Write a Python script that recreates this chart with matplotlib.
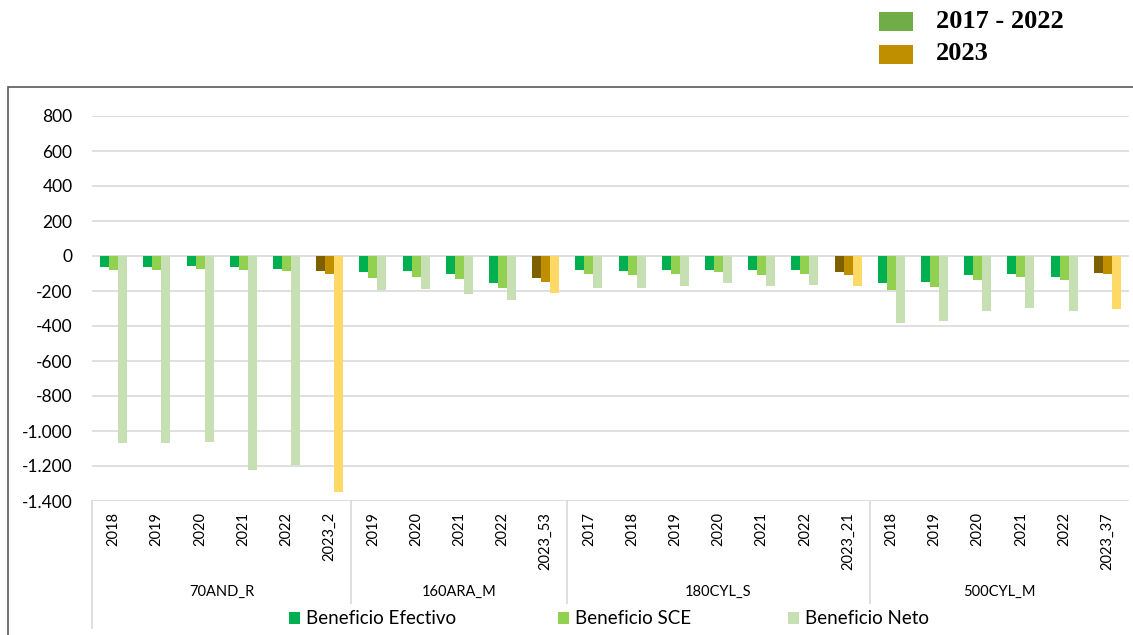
import matplotlib
matplotlib.use("Agg")
import matplotlib.pyplot as plt
import matplotlib.patches as mpatches
import numpy as np

# ---------------- data ----------------
groups = ["70AND_R", "160ARA_M", "180CYL_S", "500CYL_M"]
group_years = [
    ["2018", "2019", "2020", "2021", "2022", "2023_2"],
    ["2019", "2020", "2021", "2022", "2023_53"],
    ["2017", "2018", "2019", "2020", "2021", "2022", "2023_21"],
    ["2018", "2019", "2020", "2021", "2022", "2023_37"],
]
beneficio_efectivo = [-61, -61, -57, -61, -72, -84,
                      -91, -86, -101, -154, -124,
                      -82, -88, -82, -82, -82, -82, -90,
                      -156, -147, -107, -101, -122, -95]
beneficio_sce = [-80, -80, -76, -80, -86, -105,
                 -126, -120, -133, -185, -147,
                 -101, -110, -101, -91, -107, -101, -107,
                 -194, -179, -135, -122, -135, -105]
beneficio_neto = [-1070, -1070, -1063, -1223, -1194, -1350,
                  -194, -189, -217, -253, -210,
                  -185, -185, -170, -156, -170, -164, -170,
                  -385, -370, -312, -297, -316, -301]
series_names = ["Beneficio Efectivo", "Beneficio SCE", "Beneficio Neto"]
top_legend_labels = ["2017 - 2022", "2023"]
y_ticks = list(range(-1400, 801, 200))

# ---------------- styles ----------------
col_hist = ["#00B050", "#92D050", "#C6E0B4"]
col_2023 = ["#7F6000", "#BF8F00", "#FFD966"]
top_leg_colors = ["#70AD47", "#BF8F00"]
FONT = "Lato"

W, H = 1133, 635
fig = plt.figure(figsize=(W / 100, H / 100), dpi=100)
fig.patch.set_facecolor("white")

def fx(px):
    return px / W

def fy(py):
    return 1 - py / H

ax = fig.add_axes([fx(92), fy(501), fx(1129) - fx(92), fy(116) - fy(501)])

labels_flat = [y for g in group_years for y in g]
n = len(labels_flat)
x = np.arange(n)
is2023 = [lab.startswith("2023") for lab in labels_flat]
bw = 0.208
all_series = [beneficio_efectivo, beneficio_sce, beneficio_neto]
for k, vals in enumerate(all_series):
    colors = [col_2023[k] if f else col_hist[k] for f in is2023]
    ax.bar(x + (k - 1) * bw, vals, width=bw, color=colors,
           edgecolor="none", zorder=3)

ax.set_xlim(-0.5, n - 0.5)
ax.set_ylim(-1400, 800)
ax.set_yticks(y_ticks)
ax.set_yticklabels([f"{v:,.0f}".replace(",", ".") for v in y_ticks],
                   fontfamily=FONT, fontsize=12.5, color="#000000")
ax.tick_params(axis="y", length=0, pad=14)
ax.set_xticks([])
for v in y_ticks:
    ax.axhline(v, color="#D9D9D9", lw=1.2, zorder=1)
for s in ax.spines.values():
    s.set_visible(False)

# category table below the axis
tr = ax.get_xaxis_transform()
for i, lab in enumerate(labels_flat):
    ax.text(i, -0.029, lab, transform=tr, rotation=90, ha="center", va="top",
            fontfamily=FONT, fontsize=10.5, color="#000000")

bounds = np.cumsum([0] + [len(g) for g in group_years]) - 0.5
for gi, g in enumerate(groups):
    cx = (bounds[gi] + bounds[gi + 1]) / 2
    ax.text(cx, -0.236, g, transform=tr, ha="center", va="center",
            fontfamily=FONT, fontsize=10.5, color="#000000")
for b in bounds[1:-1]:
    ax.plot([b, b], [0, -0.265], transform=tr, color="#D9D9D9", lw=1.2,
            clip_on=False)
ax.plot([bounds[0], bounds[0]], [0, -0.33], transform=tr, color="#D9D9D9",
        lw=1.2, clip_on=False)

# chart area border
fig.add_artist(mpatches.Rectangle((fx(8), fy(700)), fx(1200), fy(87) - fy(700),
                                  transform=fig.transFigure, fill=False,
                                  edgecolor="#595959", lw=1.2))

# bottom legend
leg_x = [289, 558, 788]
for k, name in enumerate(series_names):
    fig.add_artist(mpatches.Rectangle((fx(leg_x[k]), fy(624)), fx(11), fy(612) - fy(624),
                                      transform=fig.transFigure,
                                      color=col_hist[k], lw=0))
    fig.text(fx(leg_x[k] + 17), fy(618), name, ha="left", va="center",
             fontfamily=FONT, fontsize=13.5, color="#000000")

# top legend
top_y = [[12, 31], [45, 64]]
text_y = [21, 53]
for k, lab in enumerate(top_legend_labels):
    fig.add_artist(mpatches.Rectangle((fx(879), fy(top_y[k][1])), fx(34),
                                      fy(top_y[k][0]) - fy(top_y[k][1]),
                                      transform=fig.transFigure,
                                      color=top_leg_colors[k], lw=0))
    fig.text(fx(936), fy(text_y[k]), lab, ha="left", va="center",
             fontfamily="Liberation Serif", fontweight="bold", fontsize=19,
             color="#000000")

fig.savefig("out.png", dpi=100, facecolor="white")
